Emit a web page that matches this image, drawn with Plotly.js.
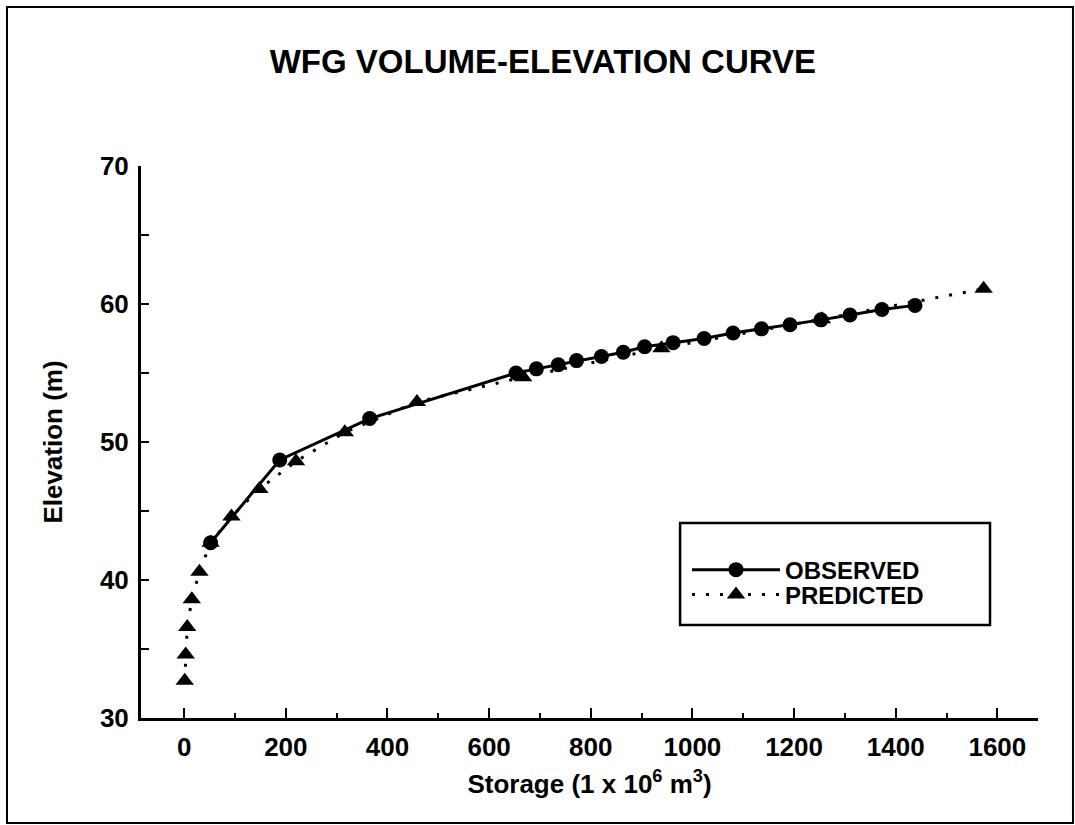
<!DOCTYPE html>
<html>
<head>
<meta charset="utf-8">
<script src="https://cdn.plot.ly/plotly-3.0.1.min.js"></script>
<style>
  html, body { margin: 0; padding: 0; background: #fff; }
  #chart { width: 1075px; height: 825px; }
</style>
</head>
<body>
<div id="chart"></div>
<script>
// Observed storage (1e6 m3) and elevation (m)
const observedStorage = [52, 188, 365, 653, 693, 736, 772, 821, 864, 906, 962, 1023, 1080, 1136, 1192, 1253, 1310, 1373, 1438];
const observedElevation = [42.7, 48.7, 51.7, 55.0, 55.3, 55.6, 55.9, 56.2, 56.5, 56.9, 57.2, 57.5, 57.9, 58.2, 58.5, 58.85, 59.2, 59.6, 59.9];

// Predicted storage and elevation
const predictedStorage = [1, 3, 6, 15, 30, 52, 93, 148, 220, 316, 458, 667, 939, 1255, 1573];
const predictedElevation = [32.7, 34.6, 36.6, 38.6, 40.6, 42.7, 44.6, 46.6, 48.6, 50.7, 52.9, 54.7, 56.8, 58.9, 61.1];

const seriesNames = ["OBSERVED", "PREDICTED"];
const chartTitle = "WFG VOLUME-ELEVATION CURVE";
const xTitle = "Storage (1 x 10<sup>6</sup> m<sup>3</sup>)";
const yTitle = "Elevation (m)";

const FONT = "Liberation Sans, Arial, Helvetica, sans-serif";

const traces = [
  {
    x: observedStorage, y: observedElevation, name: seriesNames[0],
    type: "scatter", mode: "lines+markers", legend: "legend",
    line: { color: "#000", width: 3 },
    marker: { symbol: "circle", size: 15, color: "#000" }
  },
  {
    x: predictedStorage, y: predictedElevation, name: seriesNames[1],
    type: "scatter", mode: "lines+markers", legend: "legend2",
    line: { color: "#000", width: 3, dash: "3px,11px" },
    marker: { symbol: "triangle-up", size: 16, color: "#000" }
  }
];

const legendCommon = {
  xanchor: "left", yanchor: "middle",
  borderwidth: 0, bgcolor: "rgba(0,0,0,0)",
  itemwidth: 88,
  font: { family: FONT, size: 24, weight: 700, color: "#000" }
};

const layout = {
  width: 1075, height: 825,
  paper_bgcolor: "#fff", plot_bgcolor: "#fff",
  margin: { l: 141, r: 37, t: 166, b: 107 },
  font: { family: FONT, color: "#000", weight: 700 },
  title: {
    text: chartTitle,
    font: { family: FONT, size: 33, weight: 700, color: "#000" },
    x: 0.505, xanchor: "center", y: 0.926, yanchor: "middle"
  },
  showlegend: true,
  legend: Object.assign({}, legendCommon, { x: 0.6087, y: 0.268 }),
  legend2: Object.assign({}, legendCommon, { x: 0.6087, y: 0.2228 }),
  xaxis: {
    range: [-85, 1680],
    showgrid: false, zeroline: false,
    showline: true, linecolor: "#000", linewidth: 3,
    ticks: "inside", ticklen: 10, tickwidth: 2, tickcolor: "#000",
    dtick: 200, tick0: 0,
    ticklabelstandoff: 4,
    tickfont: { family: FONT, size: 26, weight: 700, color: "#000" },
    minor: { dtick: 100, ticks: "inside", ticklen: 5, tickwidth: 2, tickcolor: "#000" },
    title: { text: xTitle, font: { family: FONT, size: 26, weight: 700, color: "#000" }, standoff: 14 }
  },
  yaxis: {
    range: [30, 70],
    showgrid: false, zeroline: false,
    showline: true, linecolor: "#000", linewidth: 3,
    ticks: "inside", ticklen: 8, tickwidth: 2, tickcolor: "#000",
    dtick: 10, tick0: 30,
    ticklabelstandoff: 4,
    tickfont: { family: FONT, size: 26, weight: 700, color: "#000" },
    minor: { dtick: 5, ticks: "inside", ticklen: 8, tickwidth: 2, tickcolor: "#000" },
    title: { text: yTitle, font: { family: FONT, size: 26, weight: 700, color: "#000" }, standoff: 30 }
  },
  shapes: [
    {
      type: "rect", xref: "paper", yref: "paper",
      x0: -0.1494, x1: 1.0390, y0: -0.190, y1: 1.288,
      line: { color: "#000", width: 2 }, fillcolor: "rgba(0,0,0,0)", layer: "below"
    },
    {
      type: "rect", xref: "paper", yref: "paper",
      x0: 0.601, x1: 0.9465, y0: 0.1685, y1: 0.3533,
      line: { color: "#000", width: 2.5 }, fillcolor: "#fff", layer: "above"
    }
  ]
};

Plotly.newPlot("chart", traces, layout, { displayModeBar: false, staticPlot: true });
</script>
</body>
</html>
